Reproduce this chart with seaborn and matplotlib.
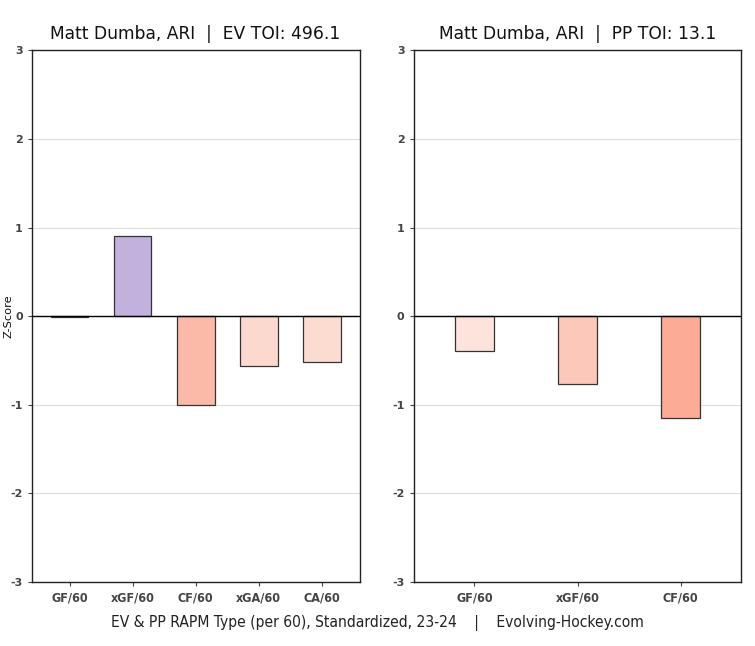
import pandas as pd
import matplotlib.pyplot as plt
import seaborn as sns

ev_metrics = ['GF/60', 'xGF/60', 'CF/60', 'xGA/60', 'CA/60']
ev_values = [-0.01, 0.90, -1.00, -0.56, -0.52]
ev_colors = ['#e0e0e0', '#c2b0dd', '#fbb9a7', '#fcd9ce', '#fcdbd0']

pp_metrics = ['GF/60', 'xGF/60', 'CF/60']
pp_values = [-0.39, -0.76, -1.15]
pp_colors = ['#fee3dc', '#fcc8b9', '#fbab96']

ev = pd.DataFrame({'metric': ev_metrics, 'z': ev_values})
pp = pd.DataFrame({'metric': pp_metrics, 'z': pp_values})

sns.set_style('white')
plt.rcParams['axes.unicode_minus'] = False
fig, axes = plt.subplots(1, 2, figsize=(7.55, 6.46), dpi=100)
fig.subplots_adjust(left=0.042, right=0.982, top=0.922, bottom=0.099, wspace=0.165)

panels = [
    (axes[0], ev, ev_colors, 0.6, 'Matt Dumba, ARI  |  EV TOI: 496.1'),
    (axes[1], pp, pp_colors, 0.38, 'Matt Dumba, ARI  |  PP TOI: 13.1'),
]

for ax, df, colors, width, title in panels:
    sns.barplot(data=df, x='metric', y='z', hue='metric', palette=colors,
                saturation=1, legend=False, width=width, edgecolor='#333333',
                linewidth=0.9, ax=ax, zorder=3)
    ax.axhline(0, color='black', linewidth=1, zorder=4)
    ax.set_ylim(-3, 3)
    ax.set_yticks([-3, -2, -1, 0, 1, 2, 3])
    ax.yaxis.grid(True, color='#dddddd', linewidth=0.8, zorder=0)
    ax.set_title(title, fontsize=12.3, pad=8, color='#111111')
    ax.set_xlabel('')
    ax.set_ylabel('')
    ax.tick_params(axis='y', left=True, length=3, labelsize=8, colors='#444444')
    ax.tick_params(axis='x', bottom=True, length=3, labelsize=9, colors='#444444')
    for lab in ax.get_xticklabels():
        lab.set_fontweight('bold')
        lab.set_fontstretch('condensed')
    for lab in ax.get_yticklabels():
        lab.set_fontweight('bold')
    for s in ax.spines.values():
        s.set_color('#222222')
        s.set_linewidth(1)

axes[1].set_xlim(-0.59, 2.59)
axes[0].set_xlim(-0.6, 4.6)
axes[0].set_ylabel('Z-Score', fontsize=8.2, color='#111111')
axes[0].yaxis.set_label_coords(-0.056, 0.5)

fig.text(0.5, 0.03, 'EV & PP RAPM Type (per 60), Standardized, 23-24    |    Evolving-Hockey.com',
         ha='center', fontsize=11.2, fontstretch='condensed', color='#222222')

fig.savefig('out.png', dpi=100)
